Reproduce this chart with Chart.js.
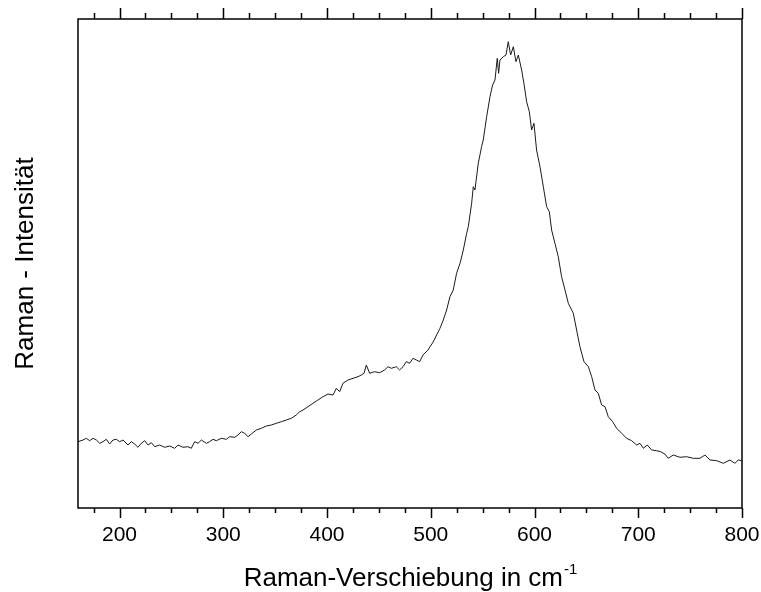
<!DOCTYPE html>
<html>
<head>
<meta charset="utf-8">
<script src="https://cdn.jsdelivr.net/npm/chart.js@4.4.0/dist/chart.umd.min.js"></script>
<style>
  html, body { margin: 0; padding: 0; background: #fff; }
  #wrap { width: 761px; height: 592px; }
</style>
</head>
<body>
<div id="wrap"><canvas id="c" width="761" height="592"></canvas></div>
<script>
// Raman shift (cm^-1)
const wavenumbers = [
  160.0,164.8,168.0,171.2,174.5,177.7,180.9,184.1,187.3,190.5,193.7,196.9,200.2,203.4,208.2,211.4,214.6,217.8,221.0,224.3,
  227.5,230.7,233.9,238.7,243.5,248.4,253.2,256.4,261.2,266.0,269.2,272.4,275.7,278.9,283.7,286.9,290.1,293.3,298.2,303.0,
  306.2,311.0,314.2,317.4,320.6,323.9,327.1,331.9,336.7,341.5,346.3,351.2,356.0,360.8,365.6,370.4,373.7,376.9,381.7,386.5,
  391.3,396.1,401.0,405.8,409.0,412.2,415.4,420.2,425.1,429.9,433.1,435.7,437.9,441.1,445.9,450.8,455.6,458.8,462.0,466.8,
  470.0,473.3,476.5,479.7,482.9,486.1,489.3,492.5,497.3,502.3,
  508.9,512.1,515.3,518.5,521.7,524.9,528.2,531.4,534.6,536.2,539.4,541.0,542.6,545.8,549.0,550.6,553.9,557.1,559.6,561.9,
  564.1,565.4,566.7,569.9,572.5,574.7,577.0,579.6,582.1,584.4,587.6,589.8,592.4,595.0,597.2,599.5,602.0,605.3,608.5,611.7,
  614.3,616.5,619.7,622.9,626.1,629.4,632.6,637.4,640.6,643.8,647.7,651.9,655.1,658.3,661.5,664.7,668.0,671.1,675.3,679.2,
  684.0,688.8,693.6,698.4,701.7,704.9,708.7,712.9,717.7,721.5,725.7,728.9,733.8,740.2,746.6,753.1,759.5,764.3,769.1,775.6,
  782.0,788.4,793.2,796.4,799.6
];
// Raman intensity (arbitrary units)
const intensity = [
  66.3,68.0,69.7,67.3,69.7,68.0,64.7,66.3,68.7,64.0,68.0,68.7,66.3,68.0,63.0,66.3,64.0,60.7,64.7,67.3,
  63.0,65.3,61.3,63.0,60.7,62.0,59.7,63.0,60.7,61.3,59.7,66.3,64.7,68.0,64.7,66.3,68.7,67.3,69.7,68.7,
  71.3,70.7,73.0,76.3,74.7,71.3,74.0,78.0,79.7,82.0,83.0,84.7,86.3,88.0,89.7,93.0,96.3,98.0,101.3,104.7,
  108.0,111.3,114.0,113.0,119.7,116.3,124.7,128.0,129.7,131.3,133.0,134.7,143.0,134.7,136.3,135.3,138.0,141.3,139.7,141.3,
  138.0,141.3,146.3,144.7,149.7,148.0,146.3,153.0,158.0,166.0,
  179.7,188.0,198.0,211.3,218.0,234.7,244.7,258.0,274.7,281.3,304.7,321.3,318.0,344.7,361.3,368.0,391.3,411.3,423.0,428.0,
  449.7,434.7,448.0,451.3,453.0,466.3,453.0,461.3,446.3,453.0,438.0,424.7,406.3,396.3,378.0,384.7,358.0,341.3,321.3,301.3,
  296.3,278.0,264.7,251.3,231.3,218.0,204.7,194.7,178.0,161.3,146.3,141.3,131.3,118.0,114.7,103.0,101.3,91.3,86.3,79.7,
  74.7,69.7,67.3,63.0,64.7,59.7,63.0,58.0,57.3,56.3,54.0,49.7,53.0,50.7,51.3,49.7,49.7,53.0,48.0,47.3,
  44.7,48.0,44.7,48.0,47.3
];
const majorTicks = [200, 300, 400, 500, 600, 700, 800];
const minorTicks = [175, 225, 250, 275, 325, 350, 375, 425, 450, 475, 525, 550, 575, 625, 650, 675, 725, 750, 775];
const xTitle = 'Raman-Verschiebung in cm';
const xTitleSup = '-1';
const yTitle = 'Raman - Intensität';

const FONT = '"Liberation Sans", Arial, Helvetica, sans-serif';

const points = wavenumbers.map((w, i) => ({ x: w, y: intensity[i] }));

const framePlugin = {
  id: 'frame',
  afterDraw(chart) {
    const ctx = chart.ctx;
    const a = chart.chartArea;
    const xs = chart.scales.x;
    ctx.save();
    ctx.strokeStyle = '#000';
    ctx.lineWidth = 1.5;
    ctx.strokeRect(a.left, a.top, a.right - a.left, a.bottom - a.top);
    ctx.beginPath();
    majorTicks.forEach(v => {
      const p = Math.round(xs.getPixelForValue(v)) + 0.5;
      ctx.moveTo(p, a.bottom); ctx.lineTo(p, a.bottom + 10);
      ctx.moveTo(p, a.top); ctx.lineTo(p, a.top - 11);
    });
    minorTicks.forEach(v => {
      const p = Math.round(xs.getPixelForValue(v)) + 0.5;
      ctx.moveTo(p, a.bottom); ctx.lineTo(p, a.bottom + 5);
      ctx.moveTo(p, a.top); ctx.lineTo(p, a.top - 6);
    });
    ctx.stroke();

    ctx.fillStyle = '#000';
    // tick labels
    ctx.font = '21px ' + FONT;
    ctx.textAlign = 'center';
    ctx.textBaseline = 'middle';
    majorTicks.forEach(v => {
      ctx.fillText(String(v), xs.getPixelForValue(v), a.bottom + 27);
    });

    // x title with superscript
    ctx.textBaseline = 'alphabetic';
    ctx.font = '26px ' + FONT;
    const w1 = ctx.measureText(xTitle).width;
    ctx.font = '15px ' + FONT;
    const w2 = ctx.measureText(xTitleSup).width;
    const cx = (a.left + a.right) / 2;
    const startX = cx - (w1 + w2) / 2;
    ctx.font = '26px ' + FONT;
    ctx.textAlign = 'left';
    ctx.fillText(xTitle, startX, 586);
    ctx.font = '15px ' + FONT;
    ctx.fillText(xTitleSup, startX + w1 + 1, 574);

    // y title
    ctx.save();
    ctx.translate(26, (a.top + a.bottom) / 2);
    ctx.rotate(-Math.PI / 2);
    ctx.font = '26px ' + FONT;
    ctx.textAlign = 'center';
    ctx.textBaseline = 'middle';
    ctx.fillText(yTitle, 0, 0);
    ctx.restore();
    ctx.restore();
  }
};

new Chart(document.getElementById('c'), {
  type: 'line',
  data: {
    datasets: [{
      data: points,
      borderColor: '#1a1a1a',
      borderWidth: 1,
      pointRadius: 0,
      tension: 0,
      fill: false
    }]
  },
  options: {
    responsive: false,
    animation: false,
    events: [],
    layout: { padding: { left: 78, right: 19, top: 19, bottom: 84 } },
    plugins: { legend: { display: false }, tooltip: { enabled: false } },
    scales: {
      x: {
        type: 'linear',
        display: false,
        min: 160,
        max: 800
      },
      y: {
        type: 'linear',
        display: false,
        min: 0,
        max: 489
      }
    }
  },
  plugins: [framePlugin]
});
</script>
</body>
</html>
